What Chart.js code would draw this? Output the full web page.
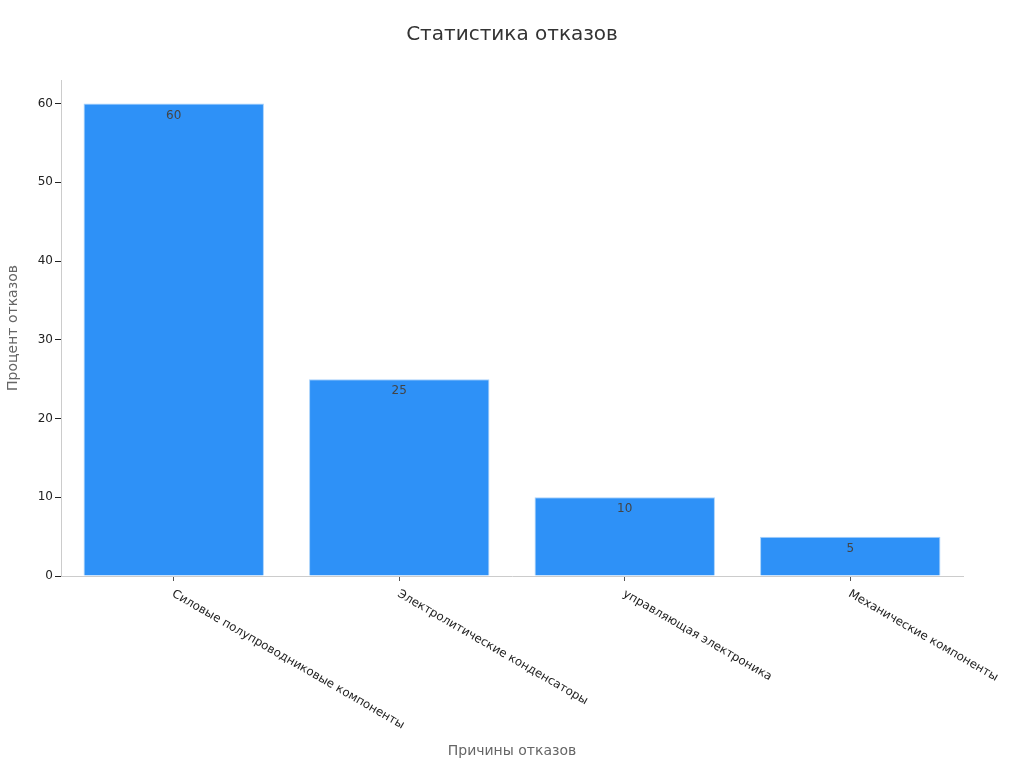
<!DOCTYPE html>
<html>
<head>
<meta charset="utf-8">
<script src="https://cdn.jsdelivr.net/npm/chart.js@4"></script>
<style>
  html, body { margin: 0; padding: 0; background: #fff; }
  #wrap { width: 1024px; height: 768px; }
</style>
</head>
<body>
<div id="wrap"><canvas id="chart" width="1024" height="768"></canvas></div>
<script>
const chartTitle = 'Статистика отказов';
const categories = [
    'Силовые полупроводниковые компоненты',
    'Электролитические конденсаторы',
    'управляющая электроника',
    'Механические компоненты'
];
const failurePercent = [60, 25, 10, 5];
const yTicks = [0, 10, 20, 30, 40, 50, 60];

Chart.defaults.font.family = "'DejaVu Sans', sans-serif";

// подписи значений внутри столбцов
const valueLabels = {
    id: 'valueLabels',
    afterDatasetsDraw(chart) {
        const ctx = chart.ctx;
        const meta = chart.getDatasetMeta(0);
        ctx.save();
        ctx.font = "12px 'DejaVu Sans'";
        ctx.fillStyle = '#444';
        ctx.textAlign = 'center';
        ctx.textBaseline = 'middle';
        meta.data.forEach((bar, i) => {
            ctx.fillText(String(failurePercent[i]), bar.x, bar.y + 12);
        });
        ctx.restore();
    }
};

// наклонные подписи категорий (вниз вправо) и заголовок по центру холста
const slantedLabels = {
    id: 'slantedLabels',
    afterDraw(chart) {
        const ctx = chart.ctx;
        const x = chart.scales.x;
        ctx.save();
        ctx.font = "11.8px 'DejaVu Sans'";
        ctx.fillStyle = '#222';
        ctx.textAlign = 'left';
        ctx.textBaseline = 'top';
        categories.forEach((c, i) => {
            const px = x.getPixelForTick(i);
            ctx.save();
            ctx.translate(px + 2, x.top + 12);
            ctx.rotate(30 * Math.PI / 180);
            ctx.fillText(c, 0, 0);
            ctx.restore();
        });
        ctx.font = "20px 'DejaVu Sans'";
        ctx.fillStyle = '#333';
        ctx.textAlign = 'center';
        ctx.textBaseline = 'middle';
        ctx.fillText(chartTitle, chart.width / 2, 35);
        ctx.restore();
    }
};

new Chart(document.getElementById('chart').getContext('2d'), {
    type: 'bar',
    data: {
        labels: categories,
        datasets: [{
            data: failurePercent,
            backgroundColor: '#2e91f7',
            borderColor: '#a9d2fb',
            borderWidth: 1,
            categoryPercentage: 1.0,
            barPercentage: 0.8
        }]
    },
    options: {
        responsive: false,
        animation: false,
        layout: { padding: { left: 0, right: 61, top: 0, bottom: 0 } },
        plugins: {
            legend: { display: false },
            tooltip: { enabled: false },
            title: {
                display: true,
                text: chartTitle,
                color: 'transparent',
                font: { size: 20, weight: 'normal' },
                padding: { top: 21, bottom: 35 }
            }
        },
        scales: {
            x: {
                offset: true,
                grid: { display: true, drawOnChartArea: false, offset: false, drawTicks: true, tickLength: 5, color: '#555' },
                border: { display: true, color: '#ccc' },
                ticks: { color: 'transparent', maxRotation: 0, autoSkip: false },
                title: {
                    display: true,
                    text: 'Причины отказов',
                    color: '#666',
                    font: { size: 14 },
                    padding: { top: 0, bottom: 8 }
                },
                afterFit(scale) { scale.height = 192; }
            },
            y: {
                min: 0,
                max: 63,
                afterBuildTicks(scale) { scale.ticks = yTicks.map(v => ({ value: v })); },
                grid: { display: true, drawOnChartArea: false, drawTicks: true, tickLength: 6, color: '#222' },
                border: { display: true, color: '#ccc' },
                ticks: { color: '#222', font: { size: 12 }, padding: 2 },
                title: {
                    display: true,
                    text: 'Процент отказов',
                    color: '#666',
                    font: { size: 14 },
                    padding: { top: 5, bottom: 0 }
                },
                afterFit(scale) { scale.width = 61; }
            }
        }
    },
    plugins: [valueLabels, slantedLabels]
});
</script>
</body>
</html>
